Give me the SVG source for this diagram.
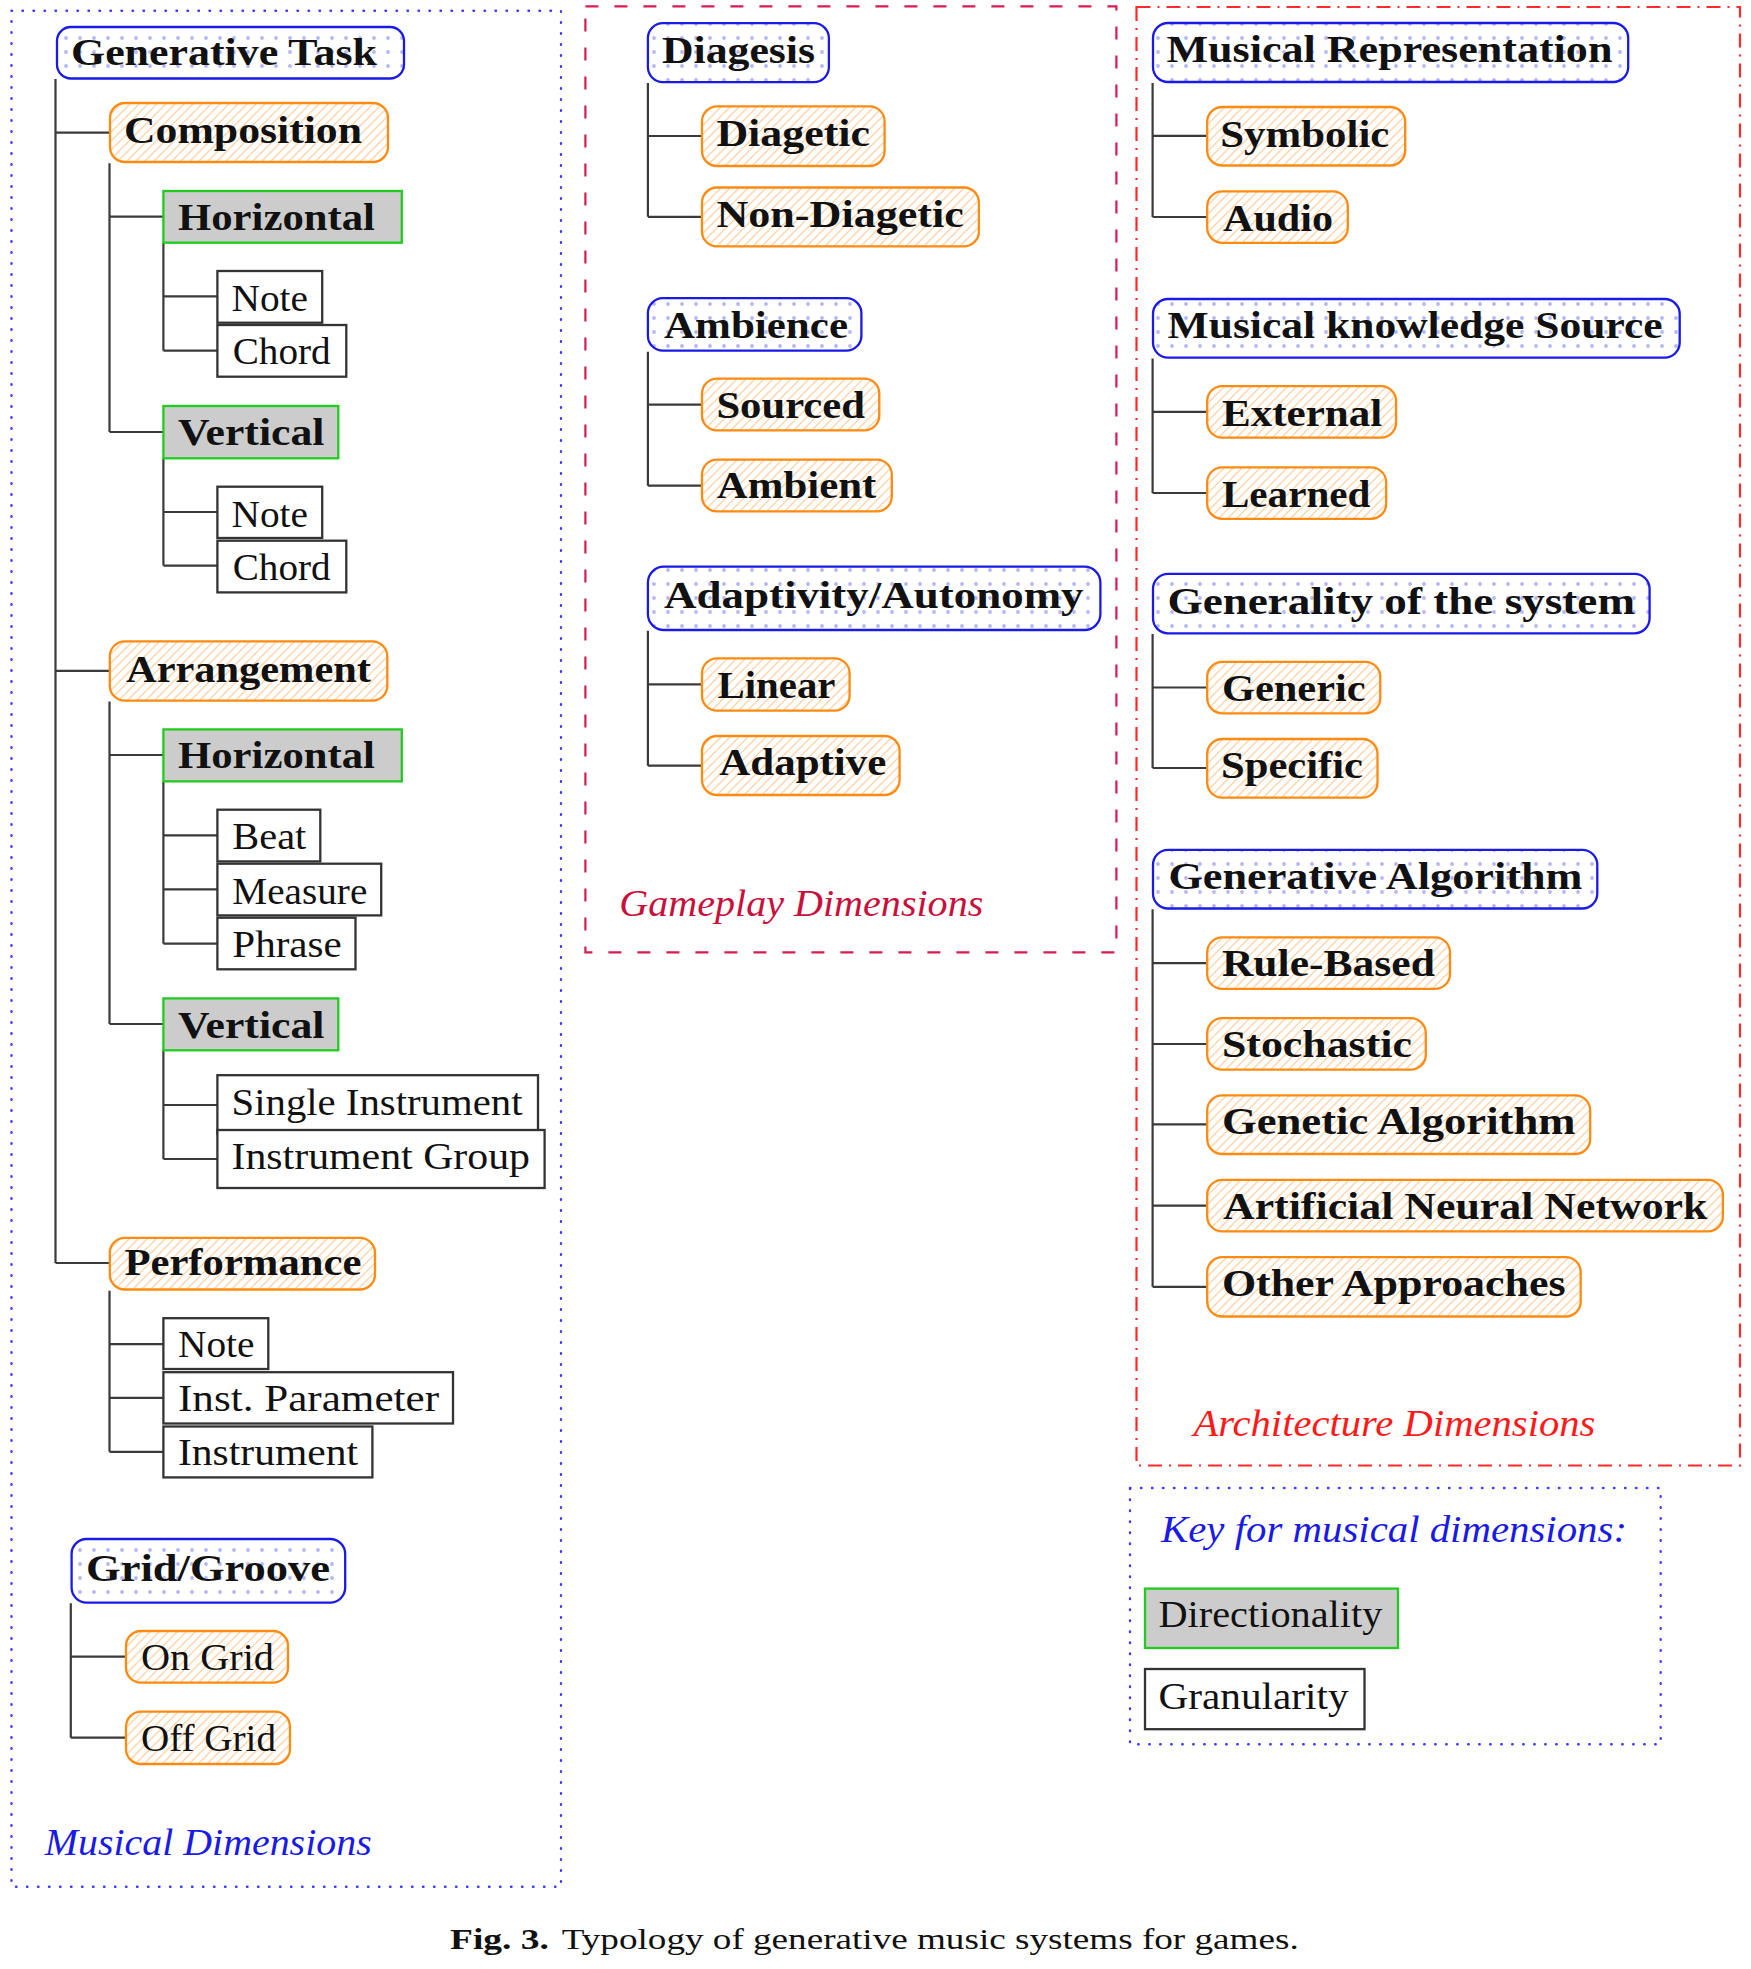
<svg xmlns="http://www.w3.org/2000/svg" width="1751" height="1969" viewBox="0 0 1751 1969">
<defs>
<pattern id="dots" patternUnits="userSpaceOnUse" width="14" height="14" x="3" y="3">
<circle cx="7" cy="7" r="1.9" fill="#b6b6f6"/>
</pattern>
<pattern id="hatch" patternUnits="userSpaceOnUse" width="9" height="9">
<path d="M-1,1 l2,-2 M0,9 l9,-9 M8,10 l2,-2" stroke="#ffd3a8" stroke-width="1.3" fill="none"/>
</pattern>
</defs>
<style>
.bl{fill:url(#dots);stroke:#1a1ae6;stroke-width:2.3}
.or{fill:url(#hatch);stroke:#ff8a10;stroke-width:2.3}
.gr{fill:#cbcccb;stroke:#1fcc1f;stroke-width:2.3}
.bk{fill:#fff;stroke:#333;stroke-width:2.3}
.t{font-family:"Liberation Serif",serif;font-size:38px;fill:#111}
.tb{font-family:"Liberation Serif",serif;font-size:38px;font-weight:bold;fill:#111}
.ti{font-family:"Liberation Serif",serif;font-size:38px;font-style:italic}
.conn{fill:none;stroke:#3a3a3a;stroke-width:2.2}
.fdot{fill:none;stroke:#3c3cff;stroke-width:2.4;stroke-linecap:round;stroke-dasharray:0.5 10.5}
</style>
<rect width="1751" height="1969" fill="#fff"/>

<g id="frames">
<rect class="fdot" x="11.5" y="10.7" width="549.5" height="1876"/>
<rect x="585.4" y="6.4" width="531" height="946" fill="none" stroke="#d81b50" stroke-width="2.2" stroke-dasharray="13 16"/>
<rect x="1136.5" y="7" width="603.5" height="1458.5" fill="none" stroke="#ff2a2a" stroke-width="2.2" stroke-dasharray="14 7 2 7"/>
<rect class="fdot" x="1130" y="1488" width="530.7" height="256.3"/>
</g>

<g id="connectors">
<path class="conn" d="M55.5,79 V1263 M55.5,132.7 H110 M55.5,670.8 H110 M55.5,1263 H110"/>
<path class="conn" d="M109.5,163.3 V432 M109.5,216.7 H163.4 M109.5,432 H163.4"/>
<path class="conn" d="M163.4,243 V350.7 M163.4,296.3 H217.4 M163.4,350.7 H217.4"/>
<path class="conn" d="M163.4,458.4 V565.6 M163.4,512 H217.4 M163.4,565.6 H217.4"/>
<path class="conn" d="M109.5,701.4 V1024 M109.5,755 H163.4 M109.5,1024 H163.4"/>
<path class="conn" d="M163.4,782 V943.7 M163.4,835.4 H217.4 M163.4,889.3 H217.4 M163.4,943.7 H217.4"/>
<path class="conn" d="M163.4,1050.3 V1159 M163.4,1105 H217.4 M163.4,1159 H217.4"/>
<path class="conn" d="M109.5,1290.7 V1451.8 M109.5,1344.2 H163.4 M109.5,1397.8 H163.4 M109.5,1451.8 H163.4"/>
<path class="conn" d="M70.8,1603.3 V1737.7 M70.8,1656.7 H126 M70.8,1737.7 H126"/>
<path class="conn" d="M647.9,82.9 V216.8 M647.9,136 H702 M647.9,216.8 H702"/>
<path class="conn" d="M647.9,351.8 V485.7 M647.9,404.6 H702 M647.9,485.7 H702"/>
<path class="conn" d="M647.9,630.7 V765.7 M647.9,684.3 H702 M647.9,765.7 H702"/>
<path class="conn" d="M1152.6,83 V217 M1152.6,135.8 H1207.2 M1152.6,217 H1207.2"/>
<path class="conn" d="M1152.6,358.4 V493 M1152.6,411.9 H1207.2 M1152.6,493 H1207.2"/>
<path class="conn" d="M1152.6,634 V768 M1152.6,687.5 H1207.2 M1152.6,768 H1207.2"/>
<path class="conn" d="M1152.6,909.3 V1286.8 M1152.6,963.2 H1207.2 M1152.6,1044 H1207.2 M1152.6,1124.4 H1207.2 M1152.6,1205.6 H1207.2 M1152.6,1286.8 H1207.2"/>
</g>

<g id="generative-task"><rect class="bl" x="57" y="27" width="347" height="51.5" rx="14"/><text class="tb" x="71" y="65" textLength="306" lengthAdjust="spacingAndGlyphs">Generative Task</text></g>
<g id="composition"><rect class="or" x="110" y="103" width="278" height="59" rx="15"/><text class="tb" x="124" y="143" textLength="238" lengthAdjust="spacingAndGlyphs">Composition</text></g>
<g id="comp-horizontal"><rect class="gr" x="163.4" y="191" width="238.4" height="51.7"/><text class="tb" x="178" y="230" textLength="197" lengthAdjust="spacingAndGlyphs">Horizontal</text></g>
<g id="comp-h-note"><rect class="bk" x="217.4" y="271" width="104.8" height="51.7"/><text class="t" x="231.5" y="310.7" textLength="76.5" lengthAdjust="spacingAndGlyphs">Note</text></g>
<g id="comp-h-chord"><rect class="bk" x="217.4" y="325" width="128.9" height="51.7"/><text class="t" x="232.7" y="363.5" textLength="98" lengthAdjust="spacingAndGlyphs">Chord</text></g>
<g id="comp-vertical"><rect class="gr" x="163.4" y="406" width="174.9" height="52.3"/><text class="tb" x="178" y="445" textLength="146.5" lengthAdjust="spacingAndGlyphs">Vertical</text></g>
<g id="comp-v-note"><rect class="bk" x="217.4" y="486.7" width="104.8" height="51.3"/><text class="t" x="231.5" y="526.5" textLength="76.5" lengthAdjust="spacingAndGlyphs">Note</text></g>
<g id="comp-v-chord"><rect class="bk" x="217.4" y="540.7" width="128.9" height="51.7"/><text class="t" x="232.7" y="580" textLength="98" lengthAdjust="spacingAndGlyphs">Chord</text></g>
<g id="arrangement"><rect class="or" x="109.8" y="641.4" width="277.5" height="59.3" rx="15"/><text class="tb" x="126" y="681.5" textLength="245" lengthAdjust="spacingAndGlyphs">Arrangement</text></g>
<g id="arr-horizontal"><rect class="gr" x="163.4" y="729.4" width="238.4" height="52"/><text class="tb" x="178" y="768.4" textLength="197" lengthAdjust="spacingAndGlyphs">Horizontal</text></g>
<g id="arr-h-beat"><rect class="bk" x="217.4" y="809.7" width="102.9" height="51.7"/><text class="t" x="232.3" y="848.8" textLength="74" lengthAdjust="spacingAndGlyphs">Beat</text></g>
<g id="arr-h-measure"><rect class="bk" x="217.4" y="863.7" width="163.8" height="51.7"/><text class="t" x="232.3" y="903.5" textLength="135" lengthAdjust="spacingAndGlyphs">Measure</text></g>
<g id="arr-h-phrase"><rect class="bk" x="217.4" y="917.7" width="138.1" height="51.6"/><text class="t" x="232.3" y="957" textLength="109.5" lengthAdjust="spacingAndGlyphs">Phrase</text></g>
<g id="arr-vertical"><rect class="gr" x="163.4" y="998.4" width="174.9" height="51.9"/><text class="tb" x="178" y="1037.5" textLength="146.5" lengthAdjust="spacingAndGlyphs">Vertical</text></g>
<g id="arr-v-single"><rect class="bk" x="217.4" y="1075.2" width="320.6" height="58.6"/><text class="t" x="231.5" y="1114.6" textLength="291" lengthAdjust="spacingAndGlyphs">Single Instrument</text></g>
<g id="arr-v-group"><rect class="bk" x="217.4" y="1130" width="327.2" height="58"/><text class="t" x="231.5" y="1169" textLength="298.5" lengthAdjust="spacingAndGlyphs">Instrument Group</text></g>
<g id="performance"><rect class="or" x="109.8" y="1237.9" width="265.2" height="51.6" rx="15"/><text class="tb" x="124.4" y="1275.4" textLength="237" lengthAdjust="spacingAndGlyphs">Performance</text></g>
<g id="perf-note"><rect class="bk" x="163.4" y="1318.2" width="104.9" height="50.8"/><text class="t" x="178" y="1356.9" textLength="76.5" lengthAdjust="spacingAndGlyphs">Note</text></g>
<g id="perf-param"><rect class="bk" x="163.4" y="1372.2" width="289.6" height="51.3"/><text class="t" x="178" y="1410.5" textLength="261" lengthAdjust="spacingAndGlyphs">Inst. Parameter</text></g>
<g id="perf-instrument"><rect class="bk" x="163.4" y="1426.5" width="209" height="50.9"/><text class="t" x="178" y="1464.8" textLength="180" lengthAdjust="spacingAndGlyphs">Instrument</text></g>
<g id="grid-groove"><rect class="bl" x="71.6" y="1539" width="273.6" height="63.6" rx="15"/><text class="tb" x="86" y="1581" textLength="244" lengthAdjust="spacingAndGlyphs">Grid/Groove</text></g>
<g id="on-grid"><rect class="or" x="126" y="1631" width="162" height="51.7" rx="15"/><text class="t" x="141" y="1670" textLength="133" lengthAdjust="spacingAndGlyphs">On Grid</text></g>
<g id="off-grid"><rect class="or" x="126" y="1711.7" width="164" height="52.3" rx="15"/><text class="t" x="141" y="1750.5" textLength="135" lengthAdjust="spacingAndGlyphs">Off Grid</text></g>
<text class="ti" x="44.7" y="1855" fill="#1a1ae6" textLength="327" lengthAdjust="spacingAndGlyphs">Musical Dimensions</text>

<g id="diagesis"><rect class="bl" x="647.9" y="23.2" width="181" height="58.9" rx="15"/><text class="tb" x="662" y="62.5" textLength="153" lengthAdjust="spacingAndGlyphs">Diagesis</text></g>
<g id="diagetic"><rect class="or" x="702" y="106.4" width="182.6" height="59.6" rx="15"/><text class="tb" x="716.4" y="145.7" textLength="153.6" lengthAdjust="spacingAndGlyphs">Diagetic</text></g>
<g id="non-diagetic"><rect class="or" x="702" y="187.5" width="276.9" height="58.9" rx="15"/><text class="tb" x="716.4" y="226.8" textLength="247.5" lengthAdjust="spacingAndGlyphs">Non-Diagetic</text></g>
<g id="ambience"><rect class="bl" x="647.9" y="298.2" width="213.5" height="52.5" rx="15"/><text class="tb" x="664" y="337.5" textLength="184" lengthAdjust="spacingAndGlyphs">Ambience</text></g>
<g id="sourced"><rect class="or" x="702" y="378.6" width="177.3" height="51.8" rx="15"/><text class="tb" x="716.4" y="417.9" textLength="148.6" lengthAdjust="spacingAndGlyphs">Sourced</text></g>
<g id="ambient"><rect class="or" x="702" y="459.6" width="189.8" height="51.8" rx="15"/><text class="tb" x="716.8" y="498.2" textLength="159.6" lengthAdjust="spacingAndGlyphs">Ambient</text></g>
<g id="adaptivity"><rect class="bl" x="647.9" y="566.7" width="452.5" height="63.3" rx="16"/><text class="tb" x="664" y="608.3" textLength="419.6" lengthAdjust="spacingAndGlyphs">Adaptivity/Autonomy</text></g>
<g id="linear"><rect class="or" x="702" y="658.3" width="147.6" height="52.4" rx="15"/><text class="tb" x="717.5" y="697.7" textLength="118" lengthAdjust="spacingAndGlyphs">Linear</text></g>
<g id="adaptive"><rect class="or" x="702" y="736" width="197.6" height="59" rx="15"/><text class="tb" x="719.3" y="775" textLength="167" lengthAdjust="spacingAndGlyphs">Adaptive</text></g>
<text class="ti" x="619.3" y="916" fill="#c8103c" textLength="364" lengthAdjust="spacingAndGlyphs">Gameplay Dimensions</text>

<g id="musical-representation"><rect class="bl" x="1153" y="23" width="475.2" height="59" rx="15"/><text class="tb" x="1166.4" y="62.2" textLength="446" lengthAdjust="spacingAndGlyphs">Musical Representation</text></g>
<g id="symbolic"><rect class="or" x="1207.2" y="107" width="198" height="58.5" rx="15"/><text class="tb" x="1220.3" y="146.5" textLength="169" lengthAdjust="spacingAndGlyphs">Symbolic</text></g>
<g id="audio"><rect class="or" x="1207.2" y="191.3" width="140.6" height="51.5" rx="15"/><text class="tb" x="1223" y="230.9" textLength="110" lengthAdjust="spacingAndGlyphs">Audio</text></g>
<g id="knowledge-source"><rect class="bl" x="1153" y="299" width="526.7" height="58.6" rx="15"/><text class="tb" x="1167.6" y="337.8" textLength="495" lengthAdjust="spacingAndGlyphs">Musical knowledge Source</text></g>
<g id="external"><rect class="or" x="1207.2" y="386.1" width="188.9" height="51.5" rx="15"/><text class="tb" x="1221.9" y="425.7" textLength="160.4" lengthAdjust="spacingAndGlyphs">External</text></g>
<g id="learned"><rect class="or" x="1207.2" y="467.3" width="179" height="51.5" rx="15"/><text class="tb" x="1221.9" y="507" textLength="148.5" lengthAdjust="spacingAndGlyphs">Learned</text></g>
<g id="generality"><rect class="bl" x="1153" y="573.9" width="496.6" height="59.4" rx="15"/><text class="tb" x="1167.6" y="613.5" textLength="467.4" lengthAdjust="spacingAndGlyphs">Generality of the system</text></g>
<g id="generic"><rect class="or" x="1207.2" y="661.8" width="173.1" height="51.5" rx="15"/><text class="tb" x="1221.9" y="700.6" textLength="143.7" lengthAdjust="spacingAndGlyphs">Generic</text></g>
<g id="specific"><rect class="or" x="1207.2" y="739" width="170.3" height="58.6" rx="15"/><text class="tb" x="1221" y="777.8" textLength="142" lengthAdjust="spacingAndGlyphs">Specific</text></g>
<g id="generative-algorithm"><rect class="bl" x="1153" y="849.9" width="444.3" height="58.6" rx="15"/><text class="tb" x="1168.4" y="888.7" textLength="414" lengthAdjust="spacingAndGlyphs">Generative Algorithm</text></g>
<g id="rule-based"><rect class="or" x="1207.2" y="937.4" width="242.8" height="51.5" rx="15"/><text class="tb" x="1221.9" y="975.8" textLength="213" lengthAdjust="spacingAndGlyphs">Rule-Based</text></g>
<g id="stochastic"><rect class="or" x="1207.2" y="1018.2" width="218.6" height="51.5" rx="15"/><text class="tb" x="1221.9" y="1057" textLength="190" lengthAdjust="spacingAndGlyphs">Stochastic</text></g>
<g id="genetic-algorithm"><rect class="or" x="1207.2" y="1095.4" width="383" height="58.6" rx="15"/><text class="tb" x="1221.9" y="1134.3" textLength="353.6" lengthAdjust="spacingAndGlyphs">Genetic Algorithm</text></g>
<g id="ann"><rect class="or" x="1207.2" y="1179.9" width="515.7" height="51.5" rx="15"/><text class="tb" x="1223" y="1218.7" textLength="484.4" lengthAdjust="spacingAndGlyphs">Artificial Neural Network</text></g>
<g id="other-approaches"><rect class="or" x="1207.2" y="1257.1" width="373.5" height="59.4" rx="15"/><text class="tb" x="1221.9" y="1296" textLength="343.7" lengthAdjust="spacingAndGlyphs">Other Approaches</text></g>
<text class="ti" x="1193.4" y="1436" fill="#ff1a1a" textLength="402" lengthAdjust="spacingAndGlyphs">Architecture Dimensions</text>

<g id="key">
<text class="ti" x="1161" y="1542.3" fill="#1a1ae6" textLength="466" lengthAdjust="spacingAndGlyphs">Key for musical dimensions:</text>
<g id="key-directionality"><rect class="gr" x="1145" y="1588.6" width="253" height="59.4"/><text class="t" x="1158.5" y="1627.4" textLength="223.8" lengthAdjust="spacingAndGlyphs">Directionality</text></g>
<g id="key-granularity"><rect class="bk" x="1145" y="1669" width="219.5" height="60.2"/><text class="t" x="1158.5" y="1708.6" textLength="190" lengthAdjust="spacingAndGlyphs">Granularity</text></g>
</g>

<g id="caption">
<text x="450" y="1949" font-family="'Liberation Serif',serif" font-size="30" font-weight="bold" fill="#111" textLength="99" lengthAdjust="spacingAndGlyphs">Fig. 3.</text>
<text x="561.7" y="1949" font-family="'Liberation Serif',serif" font-size="30" fill="#111" textLength="737" lengthAdjust="spacingAndGlyphs">Typology of generative music systems for games.</text>
</g>
</svg>
